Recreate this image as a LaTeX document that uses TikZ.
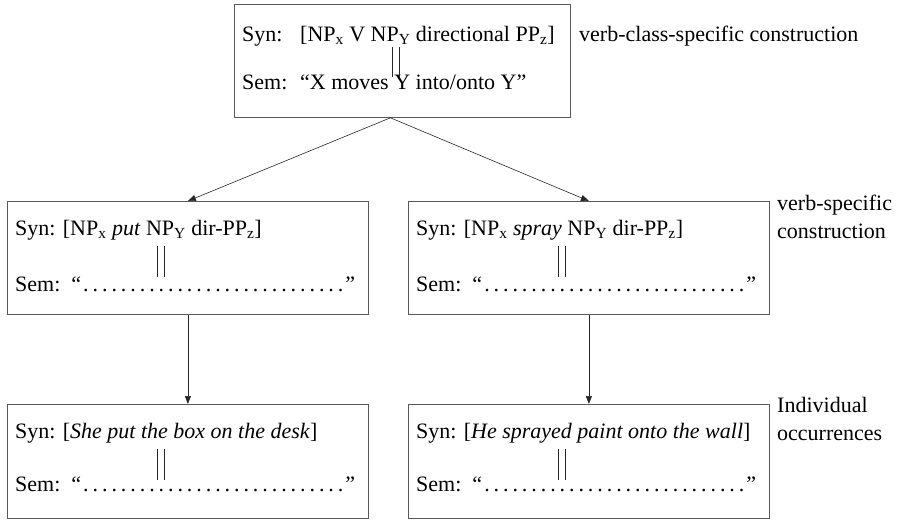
\documentclass[tikz,border=0pt]{standalone}
\usepackage{fontspec}
\setmainfont{Liberation Serif}
\usepackage{tikz}
\usetikzlibrary{arrows.meta}
\colorlet{boxgray}{black!65}
\newcommand\lsub[1]{\textsubscript{#1}}
\newcommand\semdots{\xleaders\hbox to 0.42em{\hss.\hss}\hfill\kern0pt}

\begin{document}
\begin{tikzpicture}[x=1pt,y=-1pt,font=\fontsize{22}{28}\selectfont,
    cbox/.style={draw=boxgray,line width=0.8pt,minimum width=361pt,minimum height=114pt,anchor=north west,inner sep=0pt},
    txt/.style={anchor=base west,inner sep=0pt},
    note/.style={anchor=base west,align=left,inner sep=0pt},
    eqbar/.style={line width=0.9pt,black!85},
    link/.style={-{Triangle[length=8pt,width=6pt]},line width=0.6pt,black!85}]
        \useasboundingbox (0,0) rectangle (905,520);
        % top: the verb-class construction
        \node[cbox,minimum width=336pt,minimum height=113pt](cls) at (234,4) {};
        \node[txt](clssyn) at (242,41) {Syn:};
        \node[txt](clssynx) at (300,41) {[NP\lsub{x} V NP\lsub{Y} directional PP\lsub{z}]};
        \node[txt](clssem) at (242,89) {Sem:};
        \node[txt](clssemx) at (300,89) {“X moves Y into/onto Y”};
        \draw[eqbar](392,47)--(392,77) (399,47)--(399,77);
        \node[txt](clsnote) at (579,41) {verb-class-specific construction};
        % middle: the verb constructions
        \node[cbox,minimum height=113pt](put) at (7,201) {};
        \node[txt](putsyn) at (15,235) {Syn: [NP\lsub{x} \textit{put} NP\lsub{Y} dir-PP\lsub{z}]};
        \node[txt,text width=340pt](putsem) at (15,291) {Sem: “\semdots”};
        \draw[eqbar](157,246)--(157,277) (164,246)--(164,277);
        \node[cbox,minimum height=113pt](spray) at (408,201) {};
        \node[txt](spraysyn) at (416,235) {Syn: [NP\lsub{x} \textit{spray} NP\lsub{Y} dir-PP\lsub{z}]};
        \node[txt,text width=340pt](spraysem) at (416,291) {Sem: “\semdots”};
        \draw[eqbar](558,246)--(558,277) (565,246)--(565,277);
        \node[note](verbnote) at (777,238) {verb-specific\\construction};
        % bottom: the occurrences
        \node[cbox](putex) at (7,404) {};
        \node[txt](putexsyn) at (15,438) {Syn: [\textit{She put the box on the desk}]};
        \node[txt,text width=340pt](putexsem) at (15,491) {Sem: “\semdots”};
        \draw[eqbar](157,449)--(157,480) (164,449)--(164,480);
        \node[cbox](sprayex) at (408,404) {};
        \node[txt](sprayexsyn) at (416,438) {Syn: [\textit{He sprayed paint onto the wall}]};
        \node[txt,text width=340pt](sprayexsem) at (416,491) {Sem: “\semdots”};
        \draw[eqbar](558,449)--(558,480) (565,449)--(565,480);
        \node[note](occnote) at (777,440) {Individual\\occurrences};
        % links
        \draw[link]([xshift=-12pt]cls.south)--(put.north);
        \draw[link]([xshift=-12pt]cls.south)--(spray.north);
        \draw[link](put)--(putex);
        \draw[link](spray)--(sprayex);
    \end{tikzpicture}
\end{document}
